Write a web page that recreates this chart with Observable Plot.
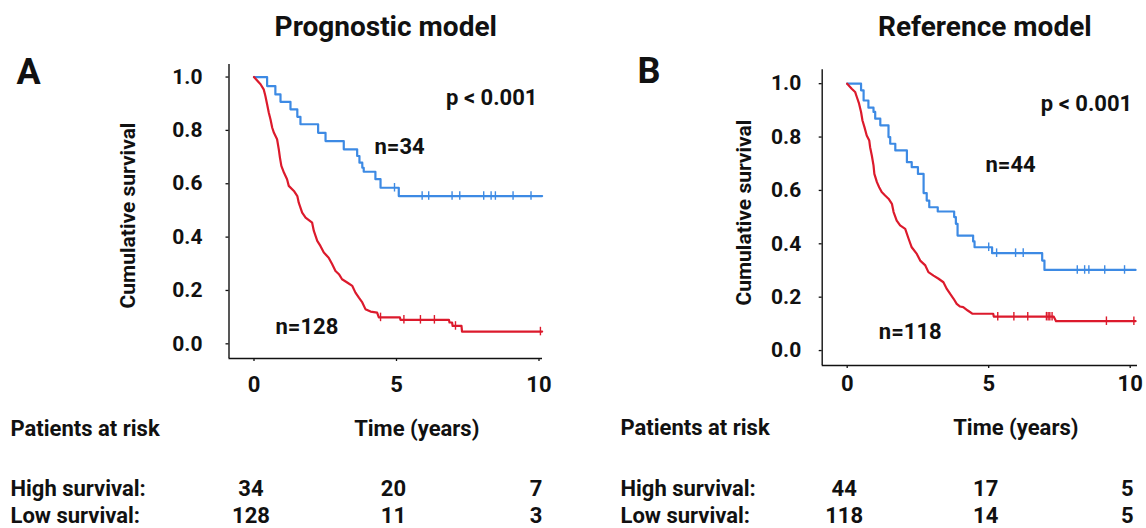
<!DOCTYPE html>
<html><head><meta charset="utf-8">
<script src="https://cdn.jsdelivr.net/npm/d3@7"></script>
<script src="https://cdn.jsdelivr.net/npm/@observablehq/plot@0.6"></script>
<style>
html,body{margin:0;padding:0;background:#fff;}
#wrap{display:flex;width:1146px;height:528px;overflow:hidden;}
</style></head><body><div id="wrap"></div>
<script>
// ---------- data ----------
const yTicks = [0, 0.2, 0.4, 0.6, 0.8, 1.0];
const xTicks = [0, 5, 10];
const riskTimes = [0, 5, 10];

// Panel A: Prognostic model
const tBlueA = [0, 0.46, 0.75, 0.93, 1.28, 1.52, 1.63, 2.25, 2.51, 3.15, 3.62, 3.70, 3.80, 3.85, 4.26, 4.44, 5.08, 10.11];
const sBlueA = [1, 0.966, 0.935, 0.907, 0.879, 0.851, 0.823, 0.791, 0.760, 0.729, 0.704, 0.679, 0.660, 0.645, 0.617, 0.585, 0.554, 0.554];
const tRedA = [0, 0.23, 0.34, 0.40, 0.46, 0.52, 0.58, 0.64, 0.70, 0.81, 0.87, 0.91, 0.96, 1.05, 1.16, 1.22, 1.40, 1.52, 1.57, 1.69, 1.81, 2.04, 2.10, 2.22, 2.33, 2.45, 2.62, 2.74, 2.86, 2.98, 3.09, 3.27, 3.45, 3.56, 3.68, 3.80, 3.91, 4.09, 4.32, 4.38, 5.12, 5.14, 6.84, 6.86, 6.95, 6.97, 7.28, 7.30, 10.11];
const sRedA = [1, 0.973, 0.954, 0.929, 0.898, 0.866, 0.841, 0.810, 0.791, 0.767, 0.729, 0.698, 0.667, 0.642, 0.617, 0.592, 0.573, 0.554, 0.529, 0.492, 0.473, 0.454, 0.423, 0.386, 0.367, 0.342, 0.323, 0.299, 0.273, 0.261, 0.242, 0.230, 0.217, 0.192, 0.173, 0.155, 0.130, 0.121, 0.117, 0.099, 0.099, 0.090, 0.090, 0.080, 0.080, 0.067, 0.067, 0.046, 0.046];
const censorBlueA = [4.93, 5.90, 6.13, 6.95, 7.22, 8.06, 8.32, 8.47, 9.09, 9.72];
const censorRedA = [4.44, 5.26, 5.84, 6.33, 7.07, 10.05];
const highRiskA = [34, 20, 7];
const lowRiskA = [128, 11, 3];

// Panel B: Reference model
const tBlueB = [0, 0.49, 0.58, 0.75, 0.93, 0.99, 1.17, 1.46, 1.52, 1.70, 2.11, 2.28, 2.50, 2.70, 2.81, 2.90, 3.20, 3.78, 3.84, 3.90, 4.45, 4.50, 5.12, 6.89, 6.97, 10.19];
const sBlueB = [1, 0.975, 0.937, 0.910, 0.894, 0.869, 0.844, 0.800, 0.775, 0.750, 0.706, 0.687, 0.662, 0.590, 0.562, 0.537, 0.521, 0.500, 0.475, 0.431, 0.409, 0.387, 0.365, 0.337, 0.302, 0.302];
const tRedB = [0, 0.16, 0.28, 0.34, 0.42, 0.49, 0.54, 0.61, 0.69, 0.78, 0.81, 0.87, 0.93, 0.96, 1.05, 1.13, 1.22, 1.34, 1.46, 1.58, 1.64, 1.75, 1.87, 2.05, 2.17, 2.28, 2.46, 2.58, 2.76, 2.87, 3.05, 3.23, 3.40, 3.52, 3.64, 3.76, 3.87, 3.99, 4.10, 4.26, 4.42, 5.16, 5.18, 7.30, 7.38, 10.19];
const sRedB = [1, 0.981, 0.969, 0.950, 0.925, 0.894, 0.862, 0.837, 0.806, 0.787, 0.762, 0.731, 0.694, 0.662, 0.631, 0.612, 0.594, 0.581, 0.569, 0.550, 0.519, 0.487, 0.469, 0.456, 0.419, 0.387, 0.362, 0.337, 0.319, 0.294, 0.281, 0.269, 0.256, 0.231, 0.212, 0.194, 0.175, 0.165, 0.163, 0.150, 0.138, 0.138, 0.127, 0.127, 0.110, 0.110];
const censorBlueB = [5.00, 5.28, 5.95, 6.22, 8.13, 8.39, 8.54, 9.10, 9.80];
const censorRedB = [5.32, 5.89, 6.38, 7.04, 7.10, 7.16, 7.24, 9.16, 10.13];
const highRiskB = [44, 17, 5];
const lowRiskB = [118, 14, 5];

// ---------- drawing ----------
const BLUE = "#3d8ae4";
const RED = "#dc1a2c";
const INK = "#111";
const FONT = "Roboto, 'Liberation Sans', Arial, sans-serif";

function stepAt(ts, ss, t) {
  let s = ss[0];
  for (let i = 0; i < ts.length; i++) if (ts[i] <= t) s = ss[i];
  return s;
}

function panel(o) {
  const L = o.layout;
  const blue = o.tBlue.map((t, i) => ({t, s: o.sBlue[i]}));
  const red = o.tRed.map((t, i) => ({t, s: o.sRed[i]}));
  const cb = o.cBlue.map(t => ({t, s: stepAt(o.tBlue, o.sBlue, t)}));
  const cr = o.cRed.map(t => ({t, s: stepAt(o.tRed, o.sRed, t)}));
  const high = riskTimes.map((t, i) => ({t, n: o.high[i]}));
  const low = riskTimes.map((t, i) => ({t, n: o.low[i]}));
  const txt = (s, opts) => Plot.text([s], {text: d => d, fontWeight: "bold", fill: INK, ...opts});
  const [x0, x1] = L.xd, [y0, y1] = L.yd;
  return Plot.plot({
    width: 573, height: 528,
    marginLeft: L.ml, marginRight: L.mr, marginTop: L.mt, marginBottom: L.mb,
    x: {domain: L.xd},
    y: {domain: L.yd},
    style: {fontFamily: FONT, color: INK, background: "#fff", overflow: "visible"},
    marks: [
      Plot.axisY({ticks: yTicks, tickFormat: d3.format(".1f"), tickSize: 3, tickPadding: L.ytp, label: null, fontSize: 21, fontWeight: "bold", strokeWidth: 1.3}),
      Plot.axisX({ticks: xTicks, tickSize: 3, tickPadding: L.xtp, label: null, fontSize: 22, fontWeight: "bold", strokeWidth: 1.3}),
      // axis lines along the frame edges (scale domain extremes)
      Plot.ruleX([x0], {y1: y0, y2: y1, stroke: INK, strokeWidth: 1.4}),
      Plot.ruleY([y0], {x1: x0, x2: x1, stroke: INK, strokeWidth: 1.4}),
      Plot.line(blue, {x: "t", y: "s", curve: "step-after", stroke: BLUE, strokeWidth: 2.2}),
      Plot.ruleX(cb, {x: "t", y1: d => d.s - 0.016, y2: d => d.s + 0.016, stroke: BLUE, strokeWidth: 1.4}),
      Plot.line(red, {x: "t", y: "s", stroke: RED, strokeWidth: 2.2}),
      Plot.ruleX(cr, {x: "t", y1: d => d.s - 0.016, y2: d => d.s + 0.016, stroke: RED, strokeWidth: 1.4}),
      txt(o.title, {frameAnchor: "top", dx: L.title[0], dy: L.title[1], lineAnchor: "bottom", fontSize: 28}),
      txt(o.letter, {frameAnchor: "top-left", dx: L.letter[0], dy: L.letter[1], lineAnchor: "bottom", textAnchor: "start", fontSize: 36}),
      txt("p < 0.001", {frameAnchor: "top-right", dx: L.p[0], dy: L.p[1], lineAnchor: "bottom", textAnchor: "end", fontSize: 22}),
      txt(o.nBlue, {frameAnchor: "top-left", dx: L.nb[0], dy: L.nb[1], lineAnchor: "bottom", textAnchor: "start", fontSize: 22}),
      txt(o.nRed, {frameAnchor: "top-left", dx: L.nr[0], dy: L.nr[1], lineAnchor: "bottom", textAnchor: "start", fontSize: 22}),
      txt("Cumulative survival", {frameAnchor: "left", rotate: -90, textAnchor: "middle", dx: L.ylab[0], dy: L.ylab[1], fontSize: 21}),
      txt("Patients at risk", {frameAnchor: "bottom-left", dx: L.rowX, dy: L.par, textAnchor: "start", fontSize: 22}),
      txt("Time (years)", {frameAnchor: "bottom", dx: L.time, dy: L.par, fontSize: 22}),
      txt("High survival:", {frameAnchor: "bottom-left", dx: L.rowX, dy: L.hi, textAnchor: "start", fontSize: 22}),
      txt("Low survival:", {frameAnchor: "bottom-left", dx: L.rowX, dy: L.lo, textAnchor: "start", fontSize: 22}),
      Plot.text(high, {x: "t", text: "n", frameAnchor: "bottom", dx: -3, dy: L.hi, fontSize: 22, fontWeight: "bold", fill: INK}),
      Plot.text(low, {x: "t", text: "n", frameAnchor: "bottom", dx: -3, dy: L.lo, fontSize: 22, fontWeight: "bold", fill: INK})
    ]
  });
}

const wrap = document.getElementById("wrap");
wrap.append(panel({
  title: "Prognostic model", letter: "A", nBlue: "n=34", nRed: "n=128",
  tBlue: tBlueA, sBlue: sBlueA, tRed: tRedA, sRed: sRedA, cBlue: censorBlueA, cRed: censorRedA,
  high: highRiskA, low: lowRiskA,
  layout: {ml: 228.5, mr: 31, mt: 64, mb: 170, xd: [-0.877, 10.123], yd: [-0.055, 1.047],
    ytp: 23.5, xtp: 15, title: [0, -29], letter: [-212.5, 19], p: [-5, 40], nb: [145.5, 89], nr: [46.5, 269],
    ylab: [-100.5, 4], rowX: -218.5, par: 77, time: 31, hi: 137, lo: 164}
}));
wrap.append(panel({
  title: "Reference model", letter: "B", nBlue: "n=44", nRed: "n=118",
  tBlue: tBlueB, sBlue: sBlueB, tRed: tRedB, sRed: sRedB, cBlue: censorBlueB, cRed: censorRedB,
  high: highRiskB, low: lowRiskB,
  layout: {ml: 248.7, mr: 9, mt: 69.3, mb: 163, xd: [-0.883, 10.258], yd: [-0.056, 1.052],
    ytp: 18, xtp: 7, title: [5, -34.3], letter: [-184.7, 12.7], p: [-5.3, 40.7], nb: [163.3, 101.7], nr: [56.6, 268.7],
    ylab: [-78, -5], rowX: -201.7, par: 69, time: 36, hi: 130, lo: 157}
}));
</script></body></html>
